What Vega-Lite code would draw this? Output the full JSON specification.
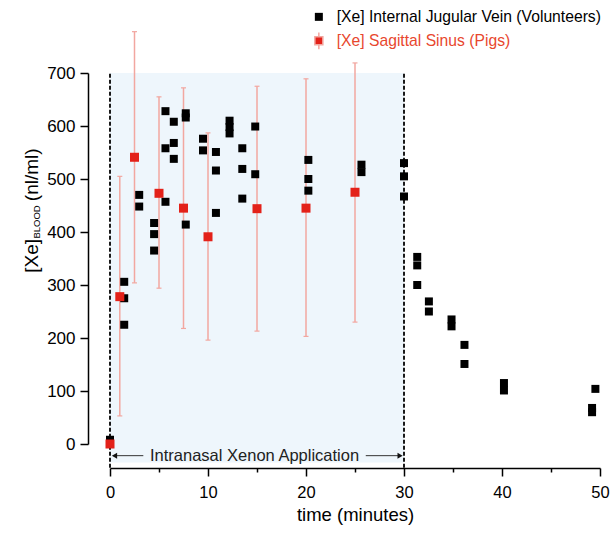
{
  "$schema": "https://vega.github.io/schema/vega-lite/v6.json",
  "width": 490,
  "height": 371,
  "autosize": {"type": "none"},
  "padding": {"left": 110, "top": 73, "right": 10, "bottom": 89},
  "background": "white",
  "config": {"view": {"stroke": null}, "font": "Liberation Sans"},
  "datasets": {
    "vol": [
      {"group": "[Xe] Internal Jugular Vein (Volunteers)", "t": 0, "v": 8},
      {"group": "[Xe] Internal Jugular Vein (Volunteers)", "t": 1.45, "v": 306},
      {"group": "[Xe] Internal Jugular Vein (Volunteers)", "t": 1.45, "v": 275},
      {"group": "[Xe] Internal Jugular Vein (Volunteers)", "t": 1.45, "v": 225},
      {"group": "[Xe] Internal Jugular Vein (Volunteers)", "t": 2.98, "v": 470},
      {"group": "[Xe] Internal Jugular Vein (Volunteers)", "t": 2.98, "v": 448},
      {"group": "[Xe] Internal Jugular Vein (Volunteers)", "t": 4.5, "v": 417},
      {"group": "[Xe] Internal Jugular Vein (Volunteers)", "t": 4.5, "v": 396},
      {"group": "[Xe] Internal Jugular Vein (Volunteers)", "t": 4.5, "v": 365},
      {"group": "[Xe] Internal Jugular Vein (Volunteers)", "t": 5.66, "v": 628},
      {"group": "[Xe] Internal Jugular Vein (Volunteers)", "t": 5.66, "v": 558},
      {"group": "[Xe] Internal Jugular Vein (Volunteers)", "t": 5.66, "v": 457},
      {"group": "[Xe] Internal Jugular Vein (Volunteers)", "t": 6.51, "v": 608},
      {"group": "[Xe] Internal Jugular Vein (Volunteers)", "t": 6.51, "v": 568},
      {"group": "[Xe] Internal Jugular Vein (Volunteers)", "t": 6.51, "v": 538},
      {"group": "[Xe] Internal Jugular Vein (Volunteers)", "t": 7.73, "v": 624},
      {"group": "[Xe] Internal Jugular Vein (Volunteers)", "t": 7.73, "v": 616},
      {"group": "[Xe] Internal Jugular Vein (Volunteers)", "t": 7.73, "v": 414},
      {"group": "[Xe] Internal Jugular Vein (Volunteers)", "t": 9.49, "v": 576},
      {"group": "[Xe] Internal Jugular Vein (Volunteers)", "t": 9.49, "v": 554},
      {"group": "[Xe] Internal Jugular Vein (Volunteers)", "t": 10.81, "v": 551},
      {"group": "[Xe] Internal Jugular Vein (Volunteers)", "t": 10.81, "v": 516},
      {"group": "[Xe] Internal Jugular Vein (Volunteers)", "t": 10.81, "v": 436},
      {"group": "[Xe] Internal Jugular Vein (Volunteers)", "t": 12.2, "v": 610},
      {"group": "[Xe] Internal Jugular Vein (Volunteers)", "t": 12.2, "v": 598},
      {"group": "[Xe] Internal Jugular Vein (Volunteers)", "t": 12.2, "v": 586},
      {"group": "[Xe] Internal Jugular Vein (Volunteers)", "t": 13.5, "v": 558},
      {"group": "[Xe] Internal Jugular Vein (Volunteers)", "t": 13.5, "v": 519},
      {"group": "[Xe] Internal Jugular Vein (Volunteers)", "t": 13.5, "v": 463},
      {"group": "[Xe] Internal Jugular Vein (Volunteers)", "t": 14.82, "v": 599},
      {"group": "[Xe] Internal Jugular Vein (Volunteers)", "t": 14.82, "v": 509},
      {"group": "[Xe] Internal Jugular Vein (Volunteers)", "t": 20.24, "v": 536},
      {"group": "[Xe] Internal Jugular Vein (Volunteers)", "t": 20.24, "v": 500},
      {"group": "[Xe] Internal Jugular Vein (Volunteers)", "t": 20.24, "v": 478},
      {"group": "[Xe] Internal Jugular Vein (Volunteers)", "t": 25.66, "v": 527},
      {"group": "[Xe] Internal Jugular Vein (Volunteers)", "t": 25.66, "v": 513},
      {"group": "[Xe] Internal Jugular Vein (Volunteers)", "t": 30.0, "v": 530},
      {"group": "[Xe] Internal Jugular Vein (Volunteers)", "t": 30.0, "v": 505},
      {"group": "[Xe] Internal Jugular Vein (Volunteers)", "t": 30.0, "v": 467},
      {"group": "[Xe] Internal Jugular Vein (Volunteers)", "t": 31.35, "v": 353},
      {"group": "[Xe] Internal Jugular Vein (Volunteers)", "t": 31.35, "v": 337},
      {"group": "[Xe] Internal Jugular Vein (Volunteers)", "t": 31.35, "v": 300},
      {"group": "[Xe] Internal Jugular Vein (Volunteers)", "t": 32.54, "v": 269},
      {"group": "[Xe] Internal Jugular Vein (Volunteers)", "t": 32.54, "v": 250},
      {"group": "[Xe] Internal Jugular Vein (Volunteers)", "t": 34.85, "v": 235},
      {"group": "[Xe] Internal Jugular Vein (Volunteers)", "t": 34.85, "v": 222},
      {"group": "[Xe] Internal Jugular Vein (Volunteers)", "t": 36.17, "v": 187},
      {"group": "[Xe] Internal Jugular Vein (Volunteers)", "t": 36.17, "v": 151},
      {"group": "[Xe] Internal Jugular Vein (Volunteers)", "t": 40.2, "v": 115},
      {"group": "[Xe] Internal Jugular Vein (Volunteers)", "t": 40.2, "v": 101},
      {"group": "[Xe] Internal Jugular Vein (Volunteers)", "t": 49.53, "v": 104},
      {"group": "[Xe] Internal Jugular Vein (Volunteers)", "t": 49.19, "v": 68},
      {"group": "[Xe] Internal Jugular Vein (Volunteers)", "t": 49.19, "v": 60}
    ],
    "pig": [
      {"group": "[Xe] Sagittal Sinus (Pigs)", "t": 0, "v": 0},
      {"group": "[Xe] Sagittal Sinus (Pigs)", "t": 1, "v": 278, "lo": 53, "hi": 505},
      {"group": "[Xe] Sagittal Sinus (Pigs)", "t": 2.5, "v": 541, "lo": 304, "hi": 778},
      {"group": "[Xe] Sagittal Sinus (Pigs)", "t": 5, "v": 473, "lo": 294, "hi": 655},
      {"group": "[Xe] Sagittal Sinus (Pigs)", "t": 7.5, "v": 445, "lo": 218, "hi": 672},
      {"group": "[Xe] Sagittal Sinus (Pigs)", "t": 10, "v": 391, "lo": 196, "hi": 587},
      {"group": "[Xe] Sagittal Sinus (Pigs)", "t": 15, "v": 444, "lo": 213, "hi": 675},
      {"group": "[Xe] Sagittal Sinus (Pigs)", "t": 20, "v": 445, "lo": 203, "hi": 689},
      {"group": "[Xe] Sagittal Sinus (Pigs)", "t": 25, "v": 475, "lo": 230, "hi": 719}
    ],
    "bounds": [{"t": 0}, {"t": 30}],
    "one": [{}]
  },
  "layer": [
    {
      "data": {"name": "one"},
      "mark": {"type": "rect", "color": "#eef6fc"},
      "encoding": {
        "x": {
          "datum": 0, "type": "quantitative",
          "scale": {"domain": [0, 50], "nice": false, "zero": false},
          "axis": {
            "title": "time (minutes)",
            "values": [0, 5, 10, 15, 20, 25, 30, 35, 40, 45, 50],
            "labelExpr": "datum.value % 10 === 0 ? datum.label : ''",
            "offset": 24,
            "tickSize": {"condition": {"test": "datum.value % 10 === 0", "value": 8}, "value": 4},
            "labelPadding": 8,
            "labelFontSize": 16.5,
            "labelFont": "Liberation Sans",
            "labelFlush": false,
            "labelOverlap": false,
            "titleFontSize": 18.5,
            "titleFont": "Liberation Sans",
            "titleFontWeight": "normal",
            "titlePadding": 5,
            "grid": false,
            "domainColor": "black",
            "domainWidth": 1.5,
            "tickColor": "black",
            "tickWidth": 1.5,
            "labelColor": "black",
            "titleColor": "black"
          }
        },
        "x2": {"datum": 30},
        "y": {
          "datum": -35, "type": "quantitative",
          "scale": {"domain": [0, 700], "nice": false, "zero": false},
          "axis": {
            "title": null,
            "values": [0, 50, 100, 150, 200, 250, 300, 350, 400, 450, 500, 550, 600, 650, 700],
            "labelExpr": "datum.value % 100 === 0 ? datum.label : ''",
            "offset": 22,
            "tickSize": {"condition": {"test": "datum.value % 100 === 0", "value": 8}, "value": 4},
            "labelPadding": 5,
            "labelFontSize": 17,
            "labelFont": "Liberation Sans",
            "labelFlush": false,
            "labelOverlap": false,
            "grid": false,
            "domainColor": "black",
            "domainWidth": 1.5,
            "tickColor": "black",
            "tickWidth": 1.5,
            "labelColor": "black"
          }
        },
        "y2": {"datum": 700}
      }
    },
    {
      "data": {"name": "bounds"},
      "mark": {"type": "rule", "color": "#1a1a1a", "strokeWidth": 2, "strokeDash": [4, 2]},
      "encoding": {
        "x": {"field": "t", "type": "quantitative"},
        "y": {"datum": -45, "type": "quantitative"},
        "y2": {"datum": 700}
      }
    },
    {
      "data": {"name": "pig"},
      "mark": {"type": "rule", "color": "#f2a7a0", "strokeWidth": 1.5},
      "encoding": {
        "x": {"field": "t", "type": "quantitative"},
        "y": {"field": "lo", "type": "quantitative"},
        "y2": {"field": "hi"}
      }
    },
    {
      "data": {"name": "pig"},
      "mark": {"type": "tick", "orient": "horizontal", "color": "#f2a7a0", "size": 5, "thickness": 1.2, "opacity": 1},
      "encoding": {
        "x": {"field": "t", "type": "quantitative"},
        "y": {"field": "lo", "type": "quantitative"}
      }
    },
    {
      "data": {"name": "pig"},
      "mark": {"type": "tick", "orient": "horizontal", "color": "#f2a7a0", "size": 5, "thickness": 1.2, "opacity": 1},
      "encoding": {
        "x": {"field": "t", "type": "quantitative"},
        "y": {"field": "hi", "type": "quantitative"}
      }
    },
    {
      "data": {"name": "vol"},
      "mark": {"type": "point", "shape": "square", "filled": true, "size": 64, "opacity": 1},
      "encoding": {
        "x": {"field": "t", "type": "quantitative"},
        "y": {"field": "v", "type": "quantitative"},
        "color": {
          "field": "group", "type": "nominal",
          "scale": {"domain": ["[Xe] Internal Jugular Vein (Volunteers)", "[Xe] Sagittal Sinus (Pigs)"], "range": ["#000000", "#e32119"]},
          "legend": {
            "orient": "none",
            "legendX": 201,
            "legendY": -64,
            "title": null,
            "padding": 0,
            "labelFont": "Liberation Sans",
            "labelFontSize": 15.7,
            "labelLimit": 0,
            "labelOffset": 10,
            "rowPadding": 4,
            "symbolType": "square",
            "symbolSize": 64,
            "symbolOpacity": 1,
            "encode": {
              "labels": {"update": {"fill": {"signal": "datum.value === '[Xe] Sagittal Sinus (Pigs)' ? '#e8472e' : '#000000'"}}},
              "symbols": {"update": {
                "shape": {"signal": "datum.value === '[Xe] Sagittal Sinus (Pigs)' ? 'M-1,-1H1V1H-1Z M0,-2.1V-1 M0,1V2.1' : 'square'"},
                "stroke": {"signal": "datum.value === '[Xe] Sagittal Sinus (Pigs)' ? '#f2a7a0' : 'transparent'"},
                "strokeWidth": {"value": 1.5}
              }}
            }
          }
        }
      }
    },
    {
      "data": {"name": "pig"},
      "mark": {"type": "point", "shape": "square", "filled": true, "size": 81, "opacity": 1},
      "encoding": {
        "x": {"field": "t", "type": "quantitative"},
        "y": {"field": "v", "type": "quantitative"},
        "color": {"field": "group", "type": "nominal"}
      }
    },
    {
      "data": {"name": "one"},
      "mark": {"type": "rule", "color": "#333333", "strokeWidth": 1},
      "encoding": {
        "x": {"datum": 0.3, "type": "quantitative"},
        "x2": {"datum": 3.4},
        "y": {"datum": -22, "type": "quantitative"}
      }
    },
    {
      "data": {"name": "one"},
      "mark": {"type": "rule", "color": "#333333", "strokeWidth": 1},
      "encoding": {
        "x": {"datum": 26.1, "type": "quantitative"},
        "x2": {"datum": 29.7},
        "y": {"datum": -22, "type": "quantitative"}
      }
    },
    {
      "data": {"name": "one"},
      "mark": {"type": "point", "shape": "triangle-left", "filled": true, "size": 36, "color": "#111111", "opacity": 1},
      "encoding": {
        "x": {"datum": 0.46, "type": "quantitative"},
        "y": {"datum": -22, "type": "quantitative"}
      }
    },
    {
      "data": {"name": "one"},
      "mark": {"type": "point", "shape": "triangle-right", "filled": true, "size": 36, "color": "#111111", "opacity": 1},
      "encoding": {
        "x": {"datum": 29.6, "type": "quantitative"},
        "y": {"datum": -22, "type": "quantitative"}
      }
    },
    {
      "data": {"name": "one"},
      "mark": {"type": "text", "text": "Intranasal Xenon Application", "font": "Liberation Sans", "fontSize": 16.5, "color": "#222222", "align": "center", "baseline": "middle"},
      "encoding": {
        "x": {"datum": 14.75, "type": "quantitative"},
        "y": {"datum": -22, "type": "quantitative"}
      }
    },
    {
      "data": {"name": "one"},
      "mark": {"type": "text", "text": "[Xe]", "font": "Liberation Sans", "fontSize": 19, "color": "#000000", "align": "center", "baseline": "middle", "angle": 270},
      "encoding": {
        "x": {"datum": -8.0, "type": "quantitative"},
        "y": {"datum": 355, "type": "quantitative"}
      }
    },
    {
      "data": {"name": "one"},
      "mark": {"type": "text", "text": "BLOOD", "font": "Liberation Sans", "fontSize": 9.5, "color": "#000000", "align": "center", "baseline": "middle", "angle": 270},
      "encoding": {
        "x": {"datum": -7.45, "type": "quantitative"},
        "y": {"datum": 419, "type": "quantitative"}
      }
    },
    {
      "data": {"name": "one"},
      "mark": {"type": "text", "text": "(nl/ml)", "font": "Liberation Sans", "fontSize": 19, "color": "#000000", "align": "center", "baseline": "middle", "angle": 270},
      "encoding": {
        "x": {"datum": -8.0, "type": "quantitative"},
        "y": {"datum": 508, "type": "quantitative"}
      }
    }
  ]
}
